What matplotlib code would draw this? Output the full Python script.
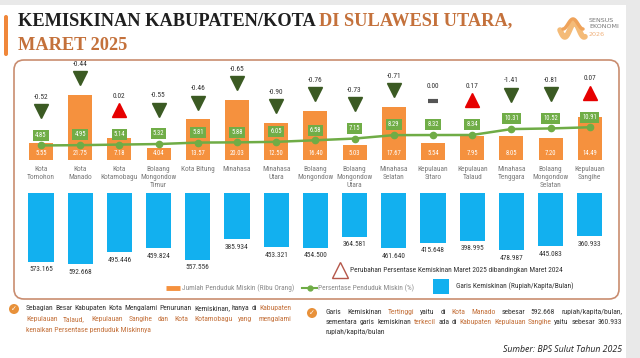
import matplotlib
matplotlib.use('Agg')
import matplotlib.pyplot as plt
from matplotlib.patches import FancyBboxPatch, Rectangle, Circle
import matplotlib.font_manager as fm
import numpy as np

categories = ["Kota\nTomohon", "Kota\nManado", "Kota\nKotamobagu", "Bolaang\nMongondow\nTimur",
              "Kota Bitung", "Minahasa", "Minahasa\nUtara", "Bolaang\nMongondow",
              "Bolaang\nMongondow\nUtara", "Minahasa\nSelatan", "Kepulauan\nSitaro",
              "Kepulauan\nTalaud", "Minahasa\nTenggara", "Bolaang\nMongondow\nSelatan",
              "Kepulauan\nSangihe"]
poor_thousand = [5.55, 21.75, 7.18, 4.04, 13.57, 20.03, 12.50, 16.40, 5.03, 17.67, 5.54, 7.95, 8.05, 7.20, 14.49]
poor_pct = [4.85, 4.95, 5.14, 5.32, 5.81, 5.88, 6.05, 6.58, 7.15, 8.29, 8.32, 8.34, 10.31, 10.52, 10.91]
pct_change = [-0.52, -0.44, 0.02, -0.55, -0.46, -0.65, -0.90, -0.76, -0.73, -0.71, 0.00, 0.17, -1.41, -0.81, 0.07]
poverty_line = [573.165, 592.668, 495.446, 459.824, 557.556, 385.934, 453.321, 454.500, 364.581,
                461.640, 415.648, 398.995, 478.987, 445.083, 360.933]

avail = {f.name for f in fm.fontManager.ttflist}
def pick(*names):
    for n in names:
        if n in avail:
            return n
    return 'DejaVu Sans'
NARROW = pick('Liberation Sans Narrow', 'Roboto Condensed', 'Roboto')
SERIF = pick('Liberation Serif', 'DejaVu Serif')
ITAL = pick('Open Sans', 'Lato', 'DejaVu Sans')
plt.rcParams['font.family'] = [NARROW, 'DejaVu Sans']

ORANGE = '#f5913e'
GREEN = '#6fac46'
DKGREEN = '#3b5a23'
RED = '#e60000'
BLUE = '#12b0ef'
TXT = '#333333'
ACC = '#c4713b'

W, H = 640, 358
fig = plt.figure(figsize=(6.4, 3.58), dpi=100)
fig.patch.set_facecolor('#e9e9e9')

def fa(l, t, r, b):
    return [l / W, 1 - b / H, (r - l) / W, (b - t) / H]

deco = fig.add_axes([0, 0, 1, 1], zorder=0)
deco.set_xlim(0, W); deco.set_ylim(H, 0); deco.axis('off')
deco.add_patch(Rectangle((0, 5), 626, 353, facecolor='white', edgecolor='none'))
deco.add_patch(FancyBboxPatch((4, 15), 4, 41, boxstyle='round,pad=0,rounding_size=2',
                              facecolor='#f0873a', edgecolor='none'))
deco.add_patch(FancyBboxPatch((14, 60), 605, 239, boxstyle='round,pad=0,rounding_size=10',
                              facecolor='none', edgecolor='#c98d70', lw=1.2))

renderer = fig.canvas.get_renderer()
def rich(x, y, parts, **kw):
    for s, c in parts:
        t = deco.text(x, y, s, color=c, **kw)
        bb = t.get_window_extent(renderer=renderer)
        x += bb.width

def justify(x, y, xr, parts, **kw):
    words = []
    for s, c in parts:
        for w in s.split():
            words.append((w, c))
    texts, widths = [], []
    for w, c in words:
        t = deco.text(x, y, w, color=c, **kw)
        texts.append(t)
        widths.append(t.get_window_extent(renderer=renderer).width)
    gap = (xr - x - sum(widths)) / max(len(words) - 1, 1)
    cx = x
    for t, wd in zip(texts, widths):
        t.set_x(cx)
        cx += wd + gap

# title
tkw = dict(fontsize=13.2, fontweight='bold', family=SERIF, va='center', ha='left')
rich(18, 21, [("KEMISKINAN KABUPATEN/KOTA ", '#1f1f1f'), ("DI SULAWESI UTARA,", ACC)], **tkw)
deco.text(18, 45, "MARET 2025", color=ACC, **tkw)

# logo
tt = np.linspace(0, 1, 60)
deco.plot(560 + 25 * tt, 30 + 7 * np.sin(tt * 2 * np.pi * 1.3), color='#f4bb78', lw=4, solid_capstyle='round')
deco.plot(563 + 20 * tt, 24 + 5 * np.cos(tt * 2 * np.pi), color='#efa35a', lw=2.5, solid_capstyle='round')
deco.text(589, 20, "SENSUS", fontsize=4.6, color='#777777', va='center', ha='left', family='DejaVu Sans')
deco.text(589, 27, "EKONOMI", fontsize=4.6, color='#777777', va='center', ha='left', family='DejaVu Sans')
deco.text(589, 34, "2026", fontsize=4.6, color='#f0b07a', va='center', ha='left', family='DejaVu Sans')

# chart geometry
x = np.arange(len(categories))
x0, dx = 41, 39.2
left_px, right_px = x0 - dx / 2, x0 + dx * 14 + dx / 2
SC_TOP = 3.0  # px per unit
ax = fig.add_axes(fa(left_px, 62, right_px, 160), zorder=2)
ax.set_xlim(-0.5, 14.5); ax.set_ylim(0, (160 - 62) / SC_TOP)
ax.patch.set_alpha(0); ax.axis('off')

ax.bar(x, poor_thousand, width=0.61, color=ORANGE, zorder=2)
ax.plot(x, poor_pct, color=GREEN, lw=1.8, marker='o', ms=4.5, zorder=3)
for i in x:
    v, p, c = poor_thousand[i], poor_pct[i], pct_change[i]
    ax.text(i, 2.3, f"{v:.2f}", ha='center', va='center', color='white', fontsize=4.8, zorder=4)
    ax.text(i, p + 3.4, f"{p:.2f}", ha='center', va='center', color='white', fontsize=4.8, zorder=5,
            bbox=dict(boxstyle='square,pad=0.3', fc='#70ad47', ec='none'))
    ty = max(v + 5.5, p + 11.5)
    if c > 0:
        ax.plot(i, ty, marker='^', ms=9.5, color=RED, zorder=4, clip_on=False)
    elif c < 0:
        ax.plot(i, ty, marker='v', ms=9.5, color=DKGREEN, zorder=4, clip_on=False)
    else:
        ax.plot(i, ty, marker='_', ms=7, mew=3, color='#555555', zorder=4, clip_on=False)
    ax.text(i, ty + 4.6, f"{c:.2f}", ha='center', va='center', color=TXT, fontsize=5.3, clip_on=False)
    ax.text(i, -1.9, categories[i], ha='center', va='top', fontsize=5.3, color='#7a7a7a',
            linespacing=1.2, clip_on=False)

# poverty line bars (hanging)
SC_BL = 0.12
bx = fig.add_axes(fa(left_px, 193, right_px, 275), zorder=2)
bx.set_xlim(-0.5, 14.5); bx.set_ylim((275 - 193) / SC_BL, 0)
bx.patch.set_alpha(0); bx.axis('off')
bx.bar(x, poverty_line, width=0.64, color=BLUE)
for i in x:
    bx.text(i, poverty_line[i] + 8 / SC_BL, f"{poverty_line[i]:.3f}", ha='center', va='center',
            fontsize=5.3, color=TXT, clip_on=False)

# legend
deco.plot(340, 270, marker='^', ms=11, mfc='none', mec='#b5574a', mew=1.0)
deco.text(350, 271, "Perubahan Persentase Kemiskinan Maret 2025 dibandingkan Maret 2024",
          fontsize=5.3, color=TXT, va='center', ha='left')
deco.plot([166, 180], [288, 288], color=ORANGE, lw=3.5, solid_capstyle='butt')
deco.text(182, 288, "Jumlah Penduduk Miskin (Ribu Orang)", fontsize=5.3, color='#8a8a8a', va='center')
deco.plot([302, 317], [288, 288], color=GREEN, lw=1.5)
deco.plot(309.5, 288, marker='o', ms=3.5, color=GREEN)
deco.text(318, 288, "Persentase Penduduk Miskin (%)", fontsize=5.3, color='#8a8a8a', va='center')
deco.add_patch(Rectangle((433, 279), 16, 15, facecolor=BLUE, edgecolor='none'))
deco.text(456, 286, "Garis Kemiskinan (Rupiah/Kapita/Bulan)", fontsize=5.3, color=TXT, va='center')

# notes
def badge(cx, cy):
    deco.add_patch(Circle((cx, cy), 5, facecolor='#e8913a', edgecolor='none'))
    deco.text(cx, cy + 0.5, "\u2713", fontsize=5, color='white', ha='center', va='center',
              family='DejaVu Sans', fontweight='bold')

nk = dict(fontsize=5.5, va='center', ha='left')
badge(14, 309)
justify(26, 308, 291, [("Sebagian Besar Kabupaten Kota Mengalami Penurunan Kemiskinan, hanya di ", TXT),
                       ("Kabupaten", ACC)], **nk)
justify(26, 319, 291, [("Kepulauan Talaud, Kepulauan Sangihe dan Kota Kotamobagu yang mengalami", ACC)], **nk)
rich(26, 330, [("kenaikan Persentase penduduk Miskinnya", ACC)], **nk)

badge(312, 313)
justify(326, 312, 622, [("Garis Kemiskinan ", TXT), ("Tertinggi", ACC), (" yaitu di ", TXT),
                        ("Kota Manado", ACC), (" sebesar 592.668 rupiah/kapita/bulan,", TXT)], **nk)
justify(326, 322, 622, [("sementara garis kemiskinan ", TXT), ("terkecil", ACC), (" ada di ", TXT),
                        ("Kabupaten Kepulauan Sangihe", ACC), (" yaitu sebesar 360.933", TXT)], **nk)
rich(326, 332, [("rupiah/kapita/bulan", TXT)], **nk)

deco.text(622, 349, "Sumber: BPS Sulut Tahun 2025", fontsize=6.3, style='italic', family=ITAL,
          color='#222222', ha='right', va='center')

fig.savefig('out.png', dpi=100, facecolor=fig.get_facecolor())
